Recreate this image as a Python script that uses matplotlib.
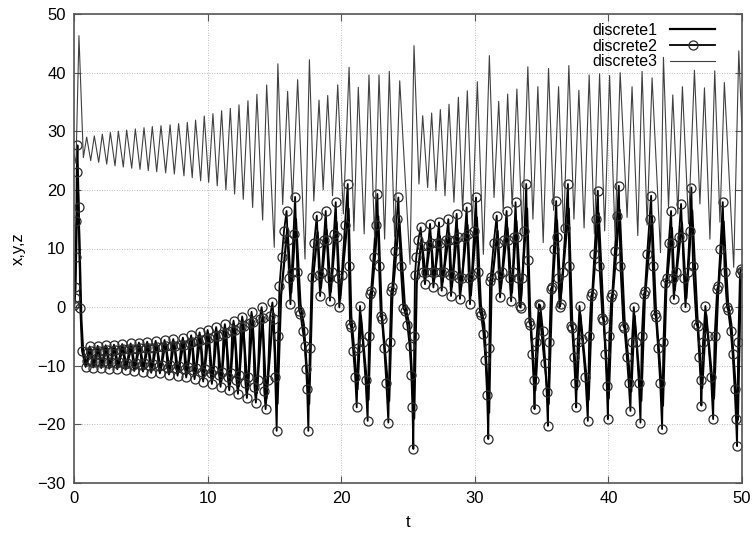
import matplotlib
matplotlib.use('Agg')
import matplotlib.pyplot as plt

# discrete1 : (t, x) turning points
disc1 = [
    (0.00, 0.0), (0.10, 3.0), (0.20, 14.0), (0.30, 19.5), (0.42, 10.0), (0.55, -2.0), (0.68, -7.5),
    (0.93, -9.9), (1.23, -7.1), (1.50, -9.9), (1.83, -7.0), (2.10, -10.0), (2.43, -6.9),
    (2.70, -10.1), (3.05, -6.8), (3.30, -10.2), (3.67, -6.7), (3.92, -10.3), (4.30, -6.7),
    (4.57, -10.4), (4.92, -6.5), (5.22, -10.5), (5.54, -6.4), (5.84, -10.7), (6.17, -6.3),
    (6.49, -10.7), (6.84, -6.2), (7.17, -10.9), (7.49, -6.1), (7.81, -11.1), (8.21, -5.9),
    (8.46, -11.3), (8.83, -5.5), (9.08, -11.5), (9.46, -5.1), (9.73, -11.9), (10.06, -4.8),
    (10.38, -12.2), (10.70, -4.4), (11.03, -12.6), (11.35, -4.0), (11.68, -13.1), (12.00, -3.5),
    (12.33, -13.5), (12.65, -3.0), (13.00, -14.1), (13.35, -2.3), (13.67, -14.7), (14.10, -1.7),
    (14.40, -15.6), (14.91, -1.0),
    (15.23, -16.5), (15.50, 2.0), (15.97, 13.5), (16.26, 2.5), (16.61, 15.0), (16.95, 0.5),
    (17.20, -3.0), (17.60, -16.5), (17.85, 4.0), (18.23, 12.8), (18.48, 3.3), (18.90, 13.2),
    (19.22, 2.6), (19.65, 14.5), (19.92, 1.4), (20.55, 16.8), (20.75, -1.5), (21.22, -14.0),
    (21.47, -1.5), (22.04, -15.8), (22.25, 1.0), (22.77, 15.5), (23.02, -0.5), (23.59, -16.0),
    (23.82, 1.5), (24.34, 15.0), (24.75, 0.6), (25.10, -3.0), (25.46, -19.0), (25.65, 4.0),
    (26.01, 11.5), (26.33, 5.2), (26.71, 11.9), (26.96, 4.8), (27.38, 12.1), (27.58, 4.3),
    (28.08, 12.6), (28.28, 3.5), (28.70, 13.2), (28.95, 3.0), (29.45, 14.0), (29.70, 2.0),
    (30.15, 15.3), (30.45, 0.4), (30.70, -3.0), (31.07, -18.0), (31.25, 3.5), (31.70, 13.0),
    (31.95, 3.2), (32.44, 13.5), (32.78, 2.5), (33.11, 14.7), (33.45, 1.4), (33.91, 16.8),
    (34.15, -1.5), (34.53, -14.2), (34.86, -1.0), (35.53, -16.5), (35.78, 2.0), (36.15, 14.8),
    (36.42, 1.5), (37.03, 16.8), (37.28, -2.0), (37.65, -14.0), (37.90, -1.3), (38.52, -15.8),
    (38.78, 1.0), (39.27, 16.0), (39.62, -0.8), (40.02, -15.6), (40.28, 0.7), (40.84, 16.6),
    (41.20, -2.0), (41.71, -14.4), (41.96, -1.5), (42.46, -16.0), (42.72, 1.2), (43.26, 15.4),
    (43.55, -0.3), (44.08, -16.8), (44.33, 3.0), (44.75, 13.5), (44.96, 2.9), (45.50, 14.4),
    (45.83, 1.5), (46.27, 16.5), (46.66, -1.8), (47.02, -13.8), (47.32, -1.3), (47.90, -15.6),
    (48.20, 2.0), (48.62, 14.6), (48.95, 0.8), (49.20, -3.0), (49.69, -19.2), (49.90, 4.0),
    (50.00, 5.5),
]

# discrete2 : (t, y) samples
disc2 = [
    (0.00, 0.3), (0.05, 1.5), (0.09, 3.5), (0.13, 8.5), (0.17, 14.7), (0.20, 23.0), (0.26, 27.6),
    (0.36, 17.0), (0.47, -0.2), (0.60, -7.5),
    (0.87, -10.2), (0.97, -9.2), (1.07, -7.6), (1.17, -6.7), (1.26, -7.5), (1.35, -9.3),
    (1.44, -10.3), (1.55, -9.3), (1.66, -7.6), (1.77, -6.6), (1.86, -7.4), (1.95, -9.4),
    (2.04, -10.4), (2.15, -9.4), (2.26, -7.5), (2.37, -6.5), (2.46, -7.3), (2.55, -9.5),
    (2.64, -10.5), (2.76, -9.4), (2.88, -7.4), (2.99, -6.4), (3.07, -7.3), (3.16, -9.6),
    (3.24, -10.6), (3.36, -9.4), (3.49, -7.3), (3.61, -6.3), (3.69, -7.2), (3.78, -9.7),
    (3.86, -10.7), (3.99, -9.5), (4.12, -7.2), (4.24, -6.2), (4.33, -7.1), (4.42, -9.8),
    (4.51, -10.9), (4.63, -9.6), (4.75, -7.1), (4.86, -6.05), (4.96, -7.0), (5.06, -9.9),
    (5.16, -11.0), (5.27, -9.6), (5.38, -7.0), (5.48, -5.9), (5.58, -6.9), (5.68, -10.0),
    (5.78, -11.2), (5.89, -9.7), (6.00, -6.9), (6.11, -5.75), (6.22, -6.8), (6.33, -10.1),
    (6.43, -11.3), (6.55, -9.8), (6.67, -6.8), (6.78, -5.6), (6.89, -6.7), (7.00, -10.3),
    (7.11, -11.5), (7.22, -9.9), (7.33, -6.7), (7.43, -5.45), (7.54, -6.6), (7.65, -10.4),
    (7.75, -11.7), (7.88, -10.0), (8.02, -6.5), (8.15, -5.2), (8.23, -6.4), (8.32, -10.6),
    (8.40, -12.0), (8.52, -10.2), (8.65, -6.2), (8.77, -4.8), (8.85, -6.0), (8.94, -10.8),
    (9.02, -12.3), (9.15, -10.3), (9.28, -5.8), (9.40, -4.3), (9.49, -5.6), (9.58, -11.0),
    (9.67, -12.7), (9.78, -10.5), (9.89, -5.5), (10.00, -3.9), (10.11, -5.3), (10.22, -11.3),
    (10.32, -13.1), (10.43, -10.7), (10.54, -5.0), (10.64, -3.4), (10.75, -4.9), (10.86, -11.6),
    (10.97, -13.6), (11.08, -11.0), (11.19, -4.6), (11.29, -2.9), (11.40, -4.4), (11.51, -12.0),
    (11.62, -14.2), (11.73, -11.3), (11.84, -4.0), (11.94, -2.3), (12.05, -3.9), (12.16, -12.5),
    (12.27, -14.8), (12.38, -11.6), (12.49, -3.4), (12.59, -1.6), (12.71, -3.3), (12.83, -13.0),
    (12.94, -15.5), (13.06, -12.0), (13.18, -2.7), (13.29, -0.8), (13.40, -2.6), (13.51, -13.6),
    (13.61, -16.3), (13.75, -12.5), (13.90, -2.0), (14.04, 0.0), (14.14, -1.8), (14.24, -14.3),
    (14.34, -17.4), (14.50, -12.5), (14.68, -1.5), (14.85, 0.8), (14.95, -2.0), (15.06, -12.0),
    (15.17, -21.1),
    (15.28, -5.0), (15.38, 3.6), (15.55, 8.5), (15.72, 13.0), (15.91, 16.4),
    (16.00, 11.5), (16.10, 5.0), (16.20, 0.5), (16.30, 6.0), (16.43, 12.5), (16.55, 18.8),
    (16.72, 6.0), (16.85, -0.6), (16.95, -1.2), (17.12, -4.0), (17.28, -6.6), (17.38, -10.6),
    (17.45, -14.0), (17.54, -21.1),
    (17.65, -7.0), (17.79, 5.1), (17.98, 11.0), (18.17, 15.6),
    (18.26, 11.0), (18.34, 5.5), (18.42, 1.9), (18.55, 6.0), (18.70, 11.5), (18.84, 16.4),
    (18.94, 11.5), (19.05, 5.0), (19.16, 1.1), (19.30, 6.0), (19.45, 12.5), (19.59, 17.9),
    (19.68, 12.0), (19.77, 5.0), (19.86, -0.05), (20.05, 5.5), (20.28, 14.0), (20.49, 21.0),
    (20.58, 7.0), (20.66, -2.9), (20.74, -3.4), (20.90, -7.5), (21.05, -12.0), (21.16, -17.1),
    (21.28, -7.0), (21.41, 0.2), (21.62, -6.0), (21.82, -12.5), (21.98, -19.4),
    (22.08, -5.0), (22.16, 2.2), (22.24, 2.8), (22.42, 8.5), (22.58, 14.0), (22.71, 19.3),
    (22.83, 7.0), (22.96, -1.5), (23.04, -2.0), (23.22, -7.0), (23.38, -13.0), (23.53, -19.7),
    (23.64, -6.0), (23.75, 2.8), (23.83, 3.4), (24.00, 9.5), (24.15, 15.0), (24.28, 18.7),
    (24.45, 7.0), (24.65, -0.2), (24.75, -0.6), (24.95, -3.0), (25.12, -6.6), (25.25, -11.5),
    (25.33, -17.0), (25.40, -24.2),
    (25.47, -5.0), (25.52, 5.5), (25.62, 8.5), (25.78, 11.5), (25.95, 13.6),
    (26.05, 10.5), (26.16, 6.0), (26.27, 3.9), (26.37, 6.0), (26.51, 10.5), (26.65, 14.2),
    (26.74, 11.0), (26.82, 6.0), (26.90, 3.35), (27.03, 6.0), (27.18, 11.0), (27.32, 14.45),
    (27.38, 11.0), (27.45, 6.0), (27.52, 2.8), (27.68, 6.0), (27.86, 11.5), (28.02, 15.0),
    (28.08, 11.5), (28.15, 5.5), (28.22, 1.9), (28.36, 5.5), (28.51, 11.5), (28.64, 15.9),
    (28.72, 12.0), (28.81, 5.0), (28.89, 1.4), (29.06, 5.0), (29.24, 12.0), (29.39, 17.0),
    (29.46, 12.5), (29.55, 5.0), (29.64, 0.5), (29.78, 5.5), (29.95, 13.0), (30.09, 18.7),
    (30.22, 6.0), (30.39, -0.9), (30.47, -1.3), (30.65, -4.5), (30.80, -9.0), (30.92, -15.0),
    (31.01, -22.5),
    (31.08, -7.0), (31.14, 4.5), (31.20, 5.2), (31.42, 11.0), (31.64, 15.6),
    (31.72, 11.0), (31.80, 5.5), (31.89, 1.65), (32.05, 6.0), (32.22, 11.5), (32.38, 16.4),
    (32.47, 11.5), (32.60, 5.0), (32.72, 1.0), (32.85, 6.0), (32.95, 12.0), (33.05, 17.9),
    (33.14, 12.0), (33.25, 5.0), (33.35, 0.2), (33.43, -0.1), (33.57, 5.0), (33.72, 13.0),
    (33.85, 21.0),
    (33.95, 8.0), (34.08, -2.6), (34.16, -3.0), (34.30, -8.0), (34.40, -12.5), (34.47, -17.4),
    (34.60, -6.0), (34.80, 0.5), (34.90, 0.3), (35.10, -4.0), (35.28, -9.5), (35.38, -14.5),
    (35.47, -20.25),
    (35.58, -6.0), (35.70, 3.1), (35.78, 3.5), (35.92, 10.0), (36.09, 18.1),
    (36.17, 12.0), (36.26, 5.0), (36.34, 0.0), (36.42, 0.5), (36.58, 6.0), (36.78, 13.5),
    (36.97, 21.0),
    (37.08, 7.0), (37.20, -3.2), (37.28, -3.6), (37.42, -8.5), (37.52, -13.0), (37.59, -17.1),
    (37.70, -6.0), (37.84, 0.2), (38.05, -5.5), (38.28, -12.0), (38.46, -19.4),
    (38.56, -5.0), (38.71, 1.9), (38.79, 2.4), (38.95, 9.0), (39.10, 15.0), (39.21, 19.85),
    (39.33, 7.0), (39.55, -1.8), (39.63, -2.2), (39.78, -8.0), (39.88, -13.5), (39.96, -19.1),
    (40.07, -5.0), (40.21, 1.65), (40.29, 2.2), (40.48, 9.5), (40.65, 15.5), (40.78, 20.7),
    (40.90, 7.0), (41.12, -3.2), (41.20, -3.6), (41.38, -8.5), (41.52, -13.0), (41.65, -17.7),
    (41.76, -6.0), (41.90, 0.0), (42.10, -6.0), (42.28, -13.0), (42.40, -19.7),
    (42.50, -5.0), (42.65, 2.2), (42.73, 2.7), (42.90, 9.0), (43.08, 15.0), (43.20, 19.0),
    (43.32, 7.0), (43.47, -1.2), (43.55, -1.6), (43.72, -7.0), (43.88, -13.0), (44.02, -20.8),
    (44.12, -6.0), (44.27, 4.2), (44.35, 5.0), (44.52, 11.0), (44.69, 16.4),
    (44.76, 11.0), (44.83, 5.0), (44.90, 1.4), (45.07, 6.0), (45.27, 12.0), (45.44, 17.6),
    (45.54, 12.0), (45.66, 5.0), (45.77, 0.0), (45.93, 6.0), (46.08, 13.0), (46.21, 20.4),
    (46.33, 7.0), (46.59, -2.9), (46.67, -3.3), (46.80, -8.5), (46.90, -12.5), (46.96, -16.8),
    (47.08, -6.0), (47.26, 0.2), (47.45, -5.0), (47.68, -12.0), (47.84, -19.1),
    (47.95, -5.0), (48.14, 3.1), (48.22, 3.6), (48.38, 10.0), (48.56, 17.9),
    (48.70, 6.0), (48.88, 0.0), (48.96, -0.5), (49.15, -4.0), (49.30, -8.0), (49.45, -14.0),
    (49.55, -19.0), (49.63, -23.7),
    (49.72, -6.0), (49.85, 5.8), (49.92, 6.5), (50.00, 6.2),
]

# discrete3 : (t, z) peaks and troughs
disc3 = [
    (0.00, 26.0), (0.15, 24.5), (0.37, 46.3), (0.70, 25.5),
    (0.95, 29.0), (1.25, 25.0), (1.52, 29.2), (1.85, 24.7), (2.12, 29.5), (2.45, 24.4),
    (2.72, 29.8), (3.07, 24.1), (3.32, 30.0), (3.69, 23.9), (3.94, 30.2), (4.32, 23.7),
    (4.59, 30.4), (4.94, 23.5), (5.24, 30.6), (5.56, 23.3), (5.86, 30.8), (6.19, 23.1),
    (6.51, 30.95), (6.86, 22.9), (7.19, 31.1), (7.51, 22.7), (7.83, 31.3), (8.23, 22.4),
    (8.48, 31.5), (8.85, 22.1), (9.10, 31.9), (9.48, 21.55), (9.75, 32.6), (10.08, 21.3),
    (10.40, 33.0), (10.72, 20.7), (11.05, 33.5), (11.37, 20.0), (11.70, 33.9), (12.02, 19.3),
    (12.35, 34.5), (12.67, 18.4), (13.02, 35.2), (13.37, 17.0), (13.69, 36.3), (14.12, 14.85),
    (14.42, 37.9), (14.99, 10.2), (15.26, 41.5), (15.62, 17.5), (15.99, 36.8), (16.35, 18.0),
    (16.74, 38.8), (17.29, 8.2), (17.62, 42.2), (17.95, 18.1), (18.34, 35.3), (18.65, 20.0),
    (18.99, 36.1), (19.35, 19.0), (19.74, 37.9), (20.16, 15.9), (20.59, 40.9), (20.95, 13.0),
    (21.28, 37.5), (21.72, 12.5), (22.08, 39.6), (22.50, 11.9), (22.83, 39.6), (23.25, 11.6),
    (23.60, 40.2), (24.00, 12.0), (24.38, 38.6), (25.15, 7.3), (25.45, 44.6), (25.82, 21.0),
    (26.10, 32.65), (26.47, 20.4), (26.77, 33.1), (27.09, 19.85), (27.42, 33.7), (27.77, 19.0),
    (28.07, 34.6), (28.44, 17.9), (28.77, 35.8), (29.09, 16.4), (29.44, 36.9), (29.81, 13.6),
    (30.19, 38.45), (30.64, 9.0), (31.09, 42.9), (31.44, 18.7), (31.79, 35.1), (32.13, 16.4),
    (32.46, 36.35), (32.80, 17.0), (33.15, 37.2), (33.55, 12.5), (33.97, 41.0), (34.35, 15.0),
    (34.72, 37.6), (35.12, 11.0), (35.52, 40.7), (35.90, 16.5), (36.27, 37.6), (36.65, 13.0),
    (37.04, 41.2), (37.42, 15.0), (37.79, 37.0), (38.18, 13.5), (38.56, 39.6), (38.95, 12.5),
    (39.34, 39.8), (39.72, 13.0), (40.09, 39.5), (40.50, 12.0), (40.88, 40.0), (41.40, 15.3),
    (41.77, 37.6), (42.20, 12.2), (42.52, 40.2), (42.90, 14.0), (43.27, 39.1), (43.90, 9.3),
    (44.12, 42.6), (44.50, 17.0), (44.82, 36.2), (45.20, 15.9), (45.54, 37.6), (46.00, 14.2),
    (46.44, 40.4), (46.85, 17.6), (47.19, 37.4), (47.60, 11.6), (47.96, 40.3), (48.35, 14.5),
    (48.68, 38.3), (49.38, 6.8), (49.76, 43.7), (50.00, 30.0),
]

t1, x1 = zip(*disc1)
t2, y2 = zip(*disc2)
t3, z3 = zip(*disc3)

plt.rcParams['font.family'] = ['Liberation Sans', 'DejaVu Sans']

fig = plt.figure(figsize=(7.52, 5.35), dpi=100)
ax = fig.add_axes([74 / 752, 52 / 535, 668 / 752, 469 / 535])

ax.plot(t1, x1, color='black', lw=1.6, label='discrete1')
ax.plot(t2, y2, color='black', lw=1.3, marker='o', ms=6.5, mfc='none',
        mec='#2a2a2a', mew=0.9, label='discrete2')
ax.plot(t3, z3, color='#404040', lw=0.8, label='discrete3')

ax.set_xlim(0, 50)
ax.set_ylim(-30, 50)
ax.set_xticks(range(0, 51, 10))
ax.set_yticks(range(-30, 51, 10))
ax.grid(True, ls=(0, (1, 2)), color='#aaaaaa', lw=0.6)
ax.tick_params(direction='in', top=True, right=True, length=5, width=0.8,
               color='#555555', labelsize=12, pad=6)
for s in ax.spines.values():
    s.set_color('#555555')
    s.set_linewidth(1.2)

ax.set_xlabel('t', fontsize=12, labelpad=6)
ax.set_ylabel('x,y,z', fontsize=12, labelpad=8)

ax.legend(loc='upper right', frameon=False, markerfirst=False, fontsize=11.5,
          handlelength=2.8, handletextpad=0.8, labelspacing=0.05,
          borderaxespad=0.55, borderpad=0.0, bbox_to_anchor=(0.973, 1.0))

fig.savefig('out.png', dpi=100)
